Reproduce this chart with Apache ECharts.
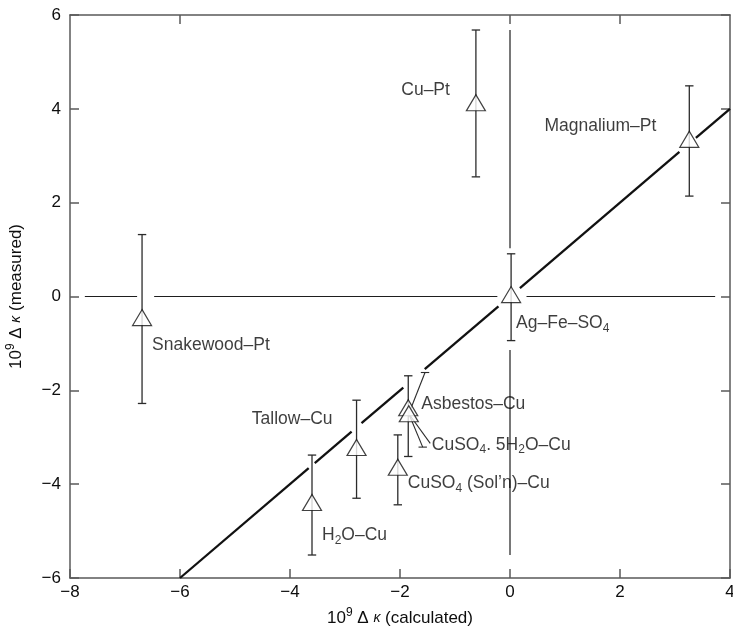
<!DOCTYPE html>
<html>
<head>
<meta charset="utf-8">
<script src="https://cdn.jsdelivr.net/npm/echarts@6/dist/echarts.min.js"></script>
<style>
  html, body { margin: 0; padding: 0; background: #fff; }
  #chart { width: 733px; height: 627px; }
</style>
</head>
<body>
<div id="chart"></div>
<script>
// Thermocouple pairs: calculated vs measured 10^9 Δκ
const pairNames = [
  'Snakewood–Pt', 'Cu–Pt', 'Magnalium–Pt', 'Ag–Fe–SO4', 'Tallow–Cu',
  'H2O–Cu', 'CuSO4 (Sol’n)–Cu', 'Asbestos–Cu', 'CuSO4. 5H2O–Cu'
];
const calculated = [-6.69, -0.62, 3.26, 0.02, -2.79, -3.60, -2.04, -1.85, -1.84];
const measured   = [-0.45, 4.13, 3.35, 0.04, -3.22, -4.39, -3.64, -2.37, -2.50];
const errLow     = [-2.28, 2.55, 2.14, -0.94, -4.30, -5.51, -4.44, -3.41, null];
const errHigh    = [1.32, 5.68, 4.49, 0.91, -2.21, -3.38, -2.95, -1.69, null];

// Error bar of the last pair, drawn bent away from the crowded point
const bentBarUpper = [-1.545, -1.62];
const bentBarLower = [-1.587, -3.21];
const leaderEnd = [-1.45, -3.13];

// Line of equality and its interruptions around the marks
const equalityLine = [-6, 4];
const equalityGaps = [[-3.66, -3.55], [-2.88, -2.70], [-1.94, -1.55], [-0.21, 0.18], [3.08, 3.38]];

// Zero reference lines (with breaks around marks)
const zeroHorizontal = [[-7.73, -6.78], [-6.47, -0.23], [0.30, 3.73]];
const zeroVertical = [[1.03, 5.68], [-5.51, -1.14]];

const xTicks = [-8, -6, -4, -2, 0, 2, 4];
const yTicks = [-6, -4, -2, 0, 2, 4, 6];

const FONT = '"Liberation Sans", Arial, Helvetica, sans-serif';
const TEXT = '#0d0d0d';
const AXIS = '#5a5a5a';

// Rich text versions of the pair names
const richNames = {
  'Ag–Fe–SO4': 'Ag–Fe–SO{s|4}',
  'H2O–Cu': 'H{s|2}O–Cu',
  'CuSO4 (Sol’n)–Cu': 'CuSO{s|4} (Sol’n)–Cu',
  'CuSO4. 5H2O–Cu': 'CuSO{s|4}. 5H{s|2}O–Cu'
};

// Label placement relative to each triangle (pixels)
const labelPlace = {
  'Snakewood–Pt': { align: 'left', offset: [10, 28] },
  'Cu–Pt': { align: 'right', offset: [-26, -13] },
  'Magnalium–Pt': { align: 'right', offset: [-33, -13] },
  'Ag–Fe–SO4': { align: 'left', offset: [5, 29] },
  'Tallow–Cu': { align: 'right', offset: [-24, -28] },
  'H2O–Cu': { align: 'left', offset: [10, 33] },
  'CuSO4 (Sol’n)–Cu': { align: 'left', offset: [10, 16] },
  'Asbestos–Cu': { align: 'left', offset: [13, -4] },
  'CuSO4. 5H2O–Cu': { align: 'left', offset: [23, 31] }
};

const labelRich = {
  n: { fontSize: 17.5, fontFamily: FONT, color: TEXT, lineHeight: 22, verticalAlign: 'middle' },
  s: { fontSize: 12, fontFamily: FONT, color: TEXT, lineHeight: 12, verticalAlign: 'bottom' }
};

function toRich(name) {
  const src = richNames[name] || name;
  // wrap plain runs in the "n" style
  return src.split(/(\{s\|[^}]*\})/).filter(Boolean)
    .map(p => p.startsWith('{s|') ? p : '{n|' + p + '}').join('');
}

const points = pairNames.map((name, i) => ({
  name: name,
  value: [calculated[i], measured[i]],
  label: {
    show: true,
    position: ['50%', '50%'],
    align: labelPlace[name].align,
    verticalAlign: 'middle',
    offset: labelPlace[name].offset,
    color: TEXT,
    formatter: () => toRich(name),
    rich: labelRich
  }
}));

const errorRows = [];
pairNames.forEach((n, i) => {
  if (errLow[i] !== null) errorRows.push([calculated[i], errLow[i], errHigh[i]]);
});

const bentIdx = pairNames.indexOf('CuSO4. 5H2O–Cu');
const bentRows = [
  [calculated[bentIdx], measured[bentIdx], bentBarUpper[0], bentBarUpper[1], 1],
  [calculated[bentIdx], measured[bentIdx], bentBarLower[0], bentBarLower[1], 1],
  [calculated[bentIdx], measured[bentIdx], leaderEnd[0], leaderEnd[1], 0]
];

// Split the equality line at its gaps
const eqRows = [];
let start = equalityLine[0];
equalityGaps.forEach(g => { eqRows.push([start, start, g[0], g[0]]); start = g[1]; });
eqRows.push([start, start, equalityLine[1], equalityLine[1]]);

const refRows = [];
zeroHorizontal.forEach(s => refRows.push([s[0], 0, s[1], 0]));
zeroVertical.forEach(s => refRows.push([0, s[0], 0, s[1]]));

function segmentSeries(rows, width, color, z) {
  return {
    type: 'custom',
    xAxisIndex: 0, yAxisIndex: 0,
    z: z,
    silent: true,
    clip: false,
    data: rows,
    renderItem: (params, api) => {
      const a = api.coord([api.value(0), api.value(1)]);
      const b = api.coord([api.value(2), api.value(3)]);
      return {
        type: 'line',
        shape: { x1: a[0], y1: a[1], x2: b[0], y2: b[1] },
        style: { stroke: color, lineWidth: width, lineCap: 'butt' }
      };
    }
  };
}

const CAP = 4.2;
const BAR = '#2b2b2b';

const nameRich = {
  n: { fontSize: 17, fontFamily: FONT, color: TEXT, lineHeight: 22 },
  sup: { fontSize: 12, fontFamily: FONT, color: TEXT, lineHeight: 12, verticalAlign: 'top' },
  k: { fontSize: 14, fontFamily: FONT, fontStyle: 'italic', color: TEXT, lineHeight: 22 }
};

const option = {
  animation: false,
  backgroundColor: '#fff',
  grid: { left: 70, right: 3, top: 15, bottom: 49, containLabel: false, outerBoundsMode: 'none' },
  xAxis: [
    {
      type: 'value', position: 'bottom', min: -8, max: 4, interval: 2,
      name: '10{sup|9} Δ {k|κ} (calculated)',
      nameLocation: 'middle', nameGap: 29,
      nameTextStyle: { rich: nameRich, fontSize: 17, fontFamily: FONT, color: TEXT, lineHeight: 22 },
      axisLine: { show: true, onZero: false, lineStyle: { color: AXIS, width: 1.5 } },
      axisTick: { show: true, inside: true, length: 9, lineStyle: { color: AXIS, width: 1.5 } },
      axisLabel: {
        show: true, margin: 6, fontSize: 17, fontFamily: FONT, color: TEXT,
        customValues: xTicks,
        formatter: v => (v < 0 ? '−' + Math.abs(v) : String(v))
      },
      splitLine: { show: false }
    },
    {
      type: 'value', position: 'top', min: -8, max: 4, interval: 2,
      axisLine: { show: true, onZero: false, lineStyle: { color: AXIS, width: 1.5 } },
      axisTick: { show: true, inside: true, length: 9, customValues: [-6, 0, 2], lineStyle: { color: AXIS, width: 1.5 } },
      axisLabel: { show: false },
      splitLine: { show: false }
    }
  ],
  yAxis: [
    {
      type: 'value', position: 'left', min: -6, max: 6, interval: 2,
      name: '10{sup|9} Δ {k|κ} (measured)',
      nameLocation: 'middle', nameGap: 43,
      nameTextStyle: { rich: nameRich, fontSize: 17, fontFamily: FONT, color: TEXT, lineHeight: 22 },
      axisLine: { show: true, onZero: false, lineStyle: { color: AXIS, width: 1.5 } },
      axisTick: { show: true, inside: true, length: 9, lineStyle: { color: AXIS, width: 1.5 } },
      axisLabel: {
        show: true, margin: 9, fontSize: 17, fontFamily: FONT, color: TEXT,
        customValues: yTicks,
        formatter: v => (v < 0 ? '−' + Math.abs(v) : String(v))
      },
      splitLine: { show: false }
    },
    {
      type: 'value', position: 'right', min: -6, max: 6, interval: 2,
      axisLine: { show: true, onZero: false, lineStyle: { color: AXIS, width: 1.5 } },
      axisTick: { show: true, inside: true, length: 9, lineStyle: { color: AXIS, width: 1.5 } },
      axisLabel: { show: false },
      splitLine: { show: false }
    }
  ],
  series: [
    segmentSeries(refRows, 1.2, '#1e1e1e', 1),
    segmentSeries(eqRows, 2.3, '#111', 2),
    {
      type: 'custom',
      xAxisIndex: 0, yAxisIndex: 0, z: 3, silent: true, clip: false,
      data: errorRows,
      renderItem: (params, api) => {
        const lo = api.coord([api.value(0), api.value(1)]);
        const hi = api.coord([api.value(0), api.value(2)]);
        const st = { stroke: BAR, lineWidth: 1.3 };
        return {
          type: 'group',
          children: [
            { type: 'line', shape: { x1: lo[0], y1: lo[1], x2: hi[0], y2: hi[1] }, style: st },
            { type: 'line', shape: { x1: hi[0] - CAP, y1: hi[1], x2: hi[0] + CAP, y2: hi[1] }, style: st },
            { type: 'line', shape: { x1: lo[0] - CAP, y1: lo[1], x2: lo[0] + CAP, y2: lo[1] }, style: st }
          ]
        };
      }
    },
    {
      type: 'custom',
      xAxisIndex: 0, yAxisIndex: 0, z: 3, silent: true, clip: false,
      data: bentRows,
      renderItem: (params, api) => {
        const a = api.coord([api.value(0), api.value(1)]);
        const b = api.coord([api.value(2), api.value(3)]);
        const st = { stroke: BAR, lineWidth: 1.1 };
        const kids = [{ type: 'line', shape: { x1: a[0], y1: a[1], x2: b[0], y2: b[1] }, style: st }];
        if (api.value(4) === 1) {
          kids.push({ type: 'line', shape: { x1: b[0] - CAP, y1: b[1], x2: b[0] + CAP, y2: b[1] }, style: st });
        }
        return { type: 'group', children: kids };
      }
    },
    {
      type: 'scatter',
      xAxisIndex: 0, yAxisIndex: 0, z: 5,
      symbol: 'triangle',
      symbolSize: [19, 16],
      itemStyle: { color: '#fff', borderColor: '#111', borderWidth: 1.2 },
      data: points
    }
  ]
};

const chart = echarts.init(document.getElementById('chart'), null, { renderer: 'canvas' });
chart.setOption(option);
</script>
</body>
</html>
